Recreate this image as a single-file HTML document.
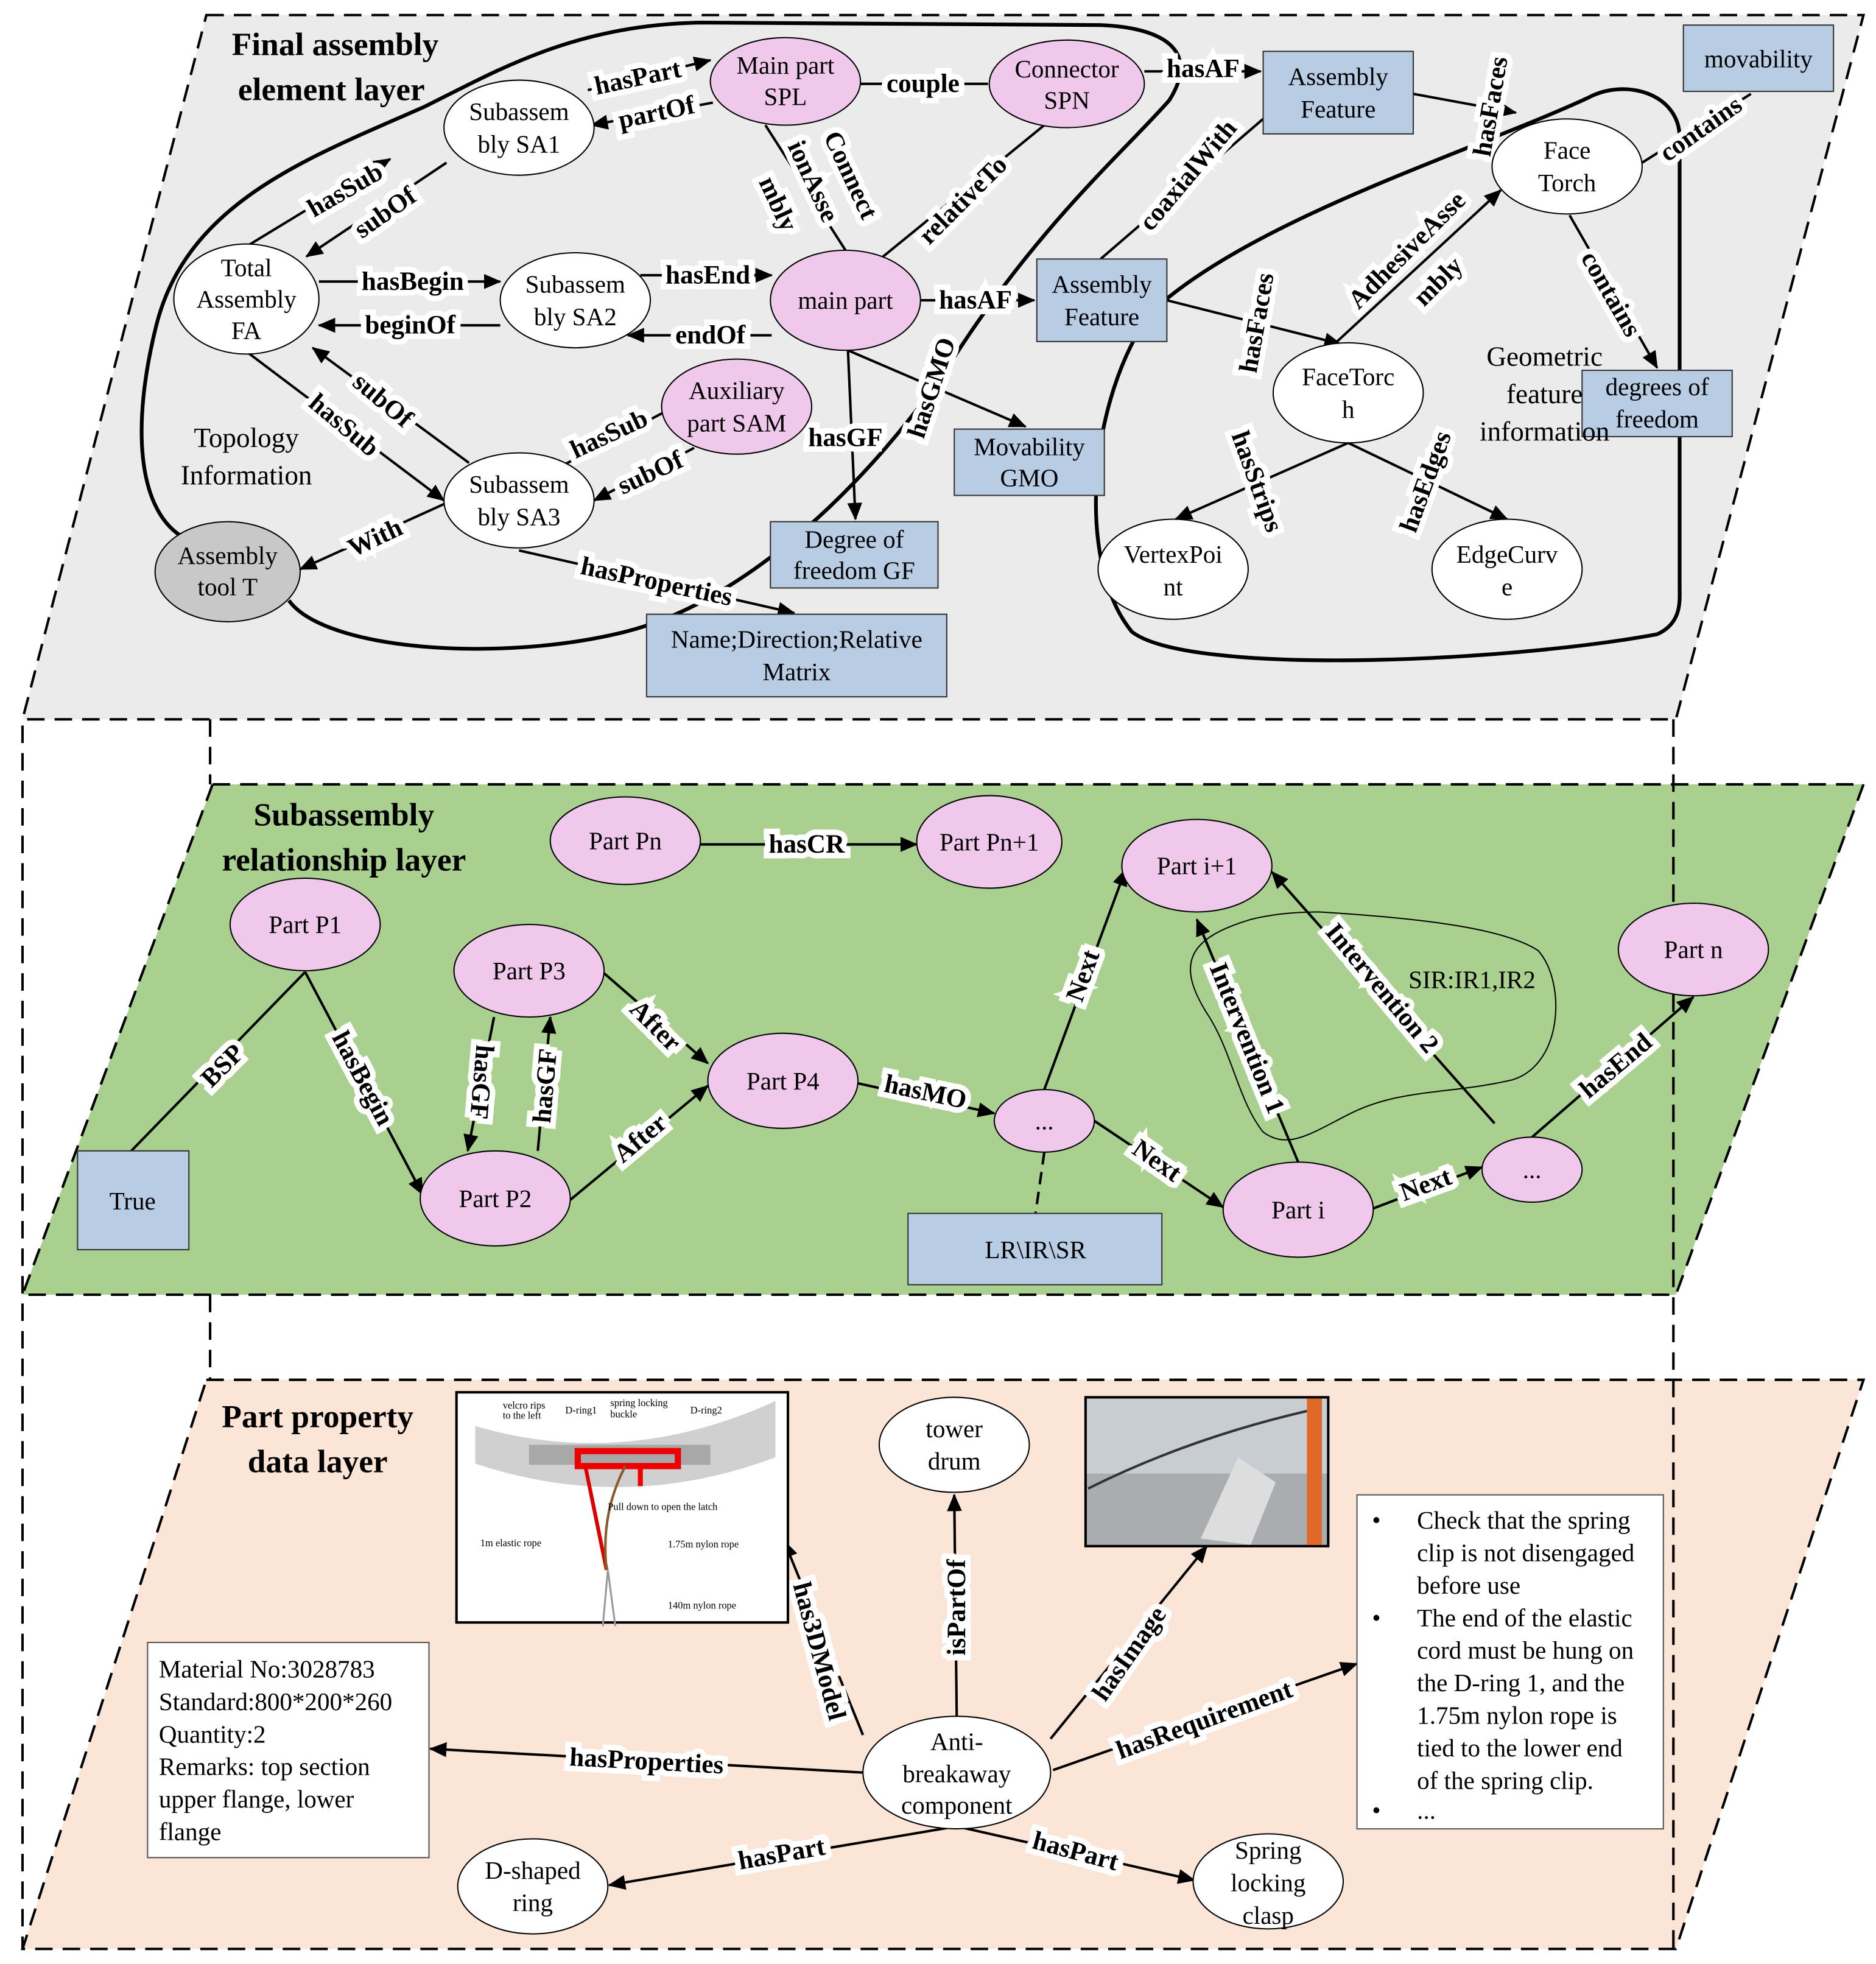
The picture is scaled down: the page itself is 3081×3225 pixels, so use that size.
<!DOCTYPE html>
<html><head><meta charset="utf-8"><style>
html,body{margin:0;padding:0;background:#fff}
svg{display:block;font-family:"Liberation Serif",serif}
text{font-family:"Liberation Serif",serif}
.n{font-family:"Liberation Serif",serif;font-size:20px;text-anchor:middle;dominant-baseline:central}
.l{font-family:"Liberation Serif",serif;font-size:21px;font-weight:bold;text-anchor:middle;dominant-baseline:central;paint-order:stroke;stroke:#fff;stroke-width:9px;stroke-linejoin:miter}
.t{font-family:"Liberation Serif",serif;font-size:26px;font-weight:bold;text-anchor:middle}
.e{stroke:#000;stroke-width:2;fill:none}
.a{stroke:#000;stroke-width:2;fill:none;marker-end:url(#ar)}
.el{stroke:#000;stroke-width:1}
.bx{fill:#b8cce4;stroke:#333;stroke-width:1}
</style></head><body>
<svg width="3081" height="3225" viewBox="0 0 1500 1570" xmlns="http://www.w3.org/2000/svg" font-family="Liberation Serif, serif">
<defs><marker id="ar" markerUnits="userSpaceOnUse" markerWidth="14" markerHeight="12" refX="13" refY="6" orient="auto"><path d="M0,0 L14,6 L0,12 z" fill="#000"/></marker></defs>

<!-- layers -->
<polygon points="165,12 1490,12 1340,575 18,575" fill="#ebebeb" stroke="#000" stroke-width="2" stroke-dasharray="14,8"/>
<polygon points="170,627 1490,627 1340,1035 18,1035" fill="#a9d08e" stroke="#000" stroke-width="2" stroke-dasharray="14,8"/>
<polygon points="165,1103 1490,1103 1340,1558 18,1558" fill="#fbe5d6" stroke="#000" stroke-width="2" stroke-dasharray="14,8"/>
<g stroke="#000" stroke-width="2" stroke-dasharray="14,8">
<line x1="18" y1="580" x2="18" y2="1558"/>
<line x1="168" y1="575" x2="168" y2="627"/>
<line x1="168" y1="1035" x2="168" y2="1103"/>
<line x1="1338" y1="575" x2="1338" y2="1558"/>
</g>

<!-- layer 1 -->
<text class="t" x="268" y="44">Final assembly</text>
<text class="t" x="265" y="80">element layer</text>
<path d="M231,480 C260,520 400,530 500,505 C600,480 700,380 760,290 C830,180 900,120 935,80 C960,40 930,22 880,20 L560,18 C460,20 400,55 340,85 C250,125 150,160 125,260 C105,340 110,405 144,428" stroke="#000" stroke-width="3" fill="none"/>
<path d="M1343,470 L1343,110 C1343,75 1300,62 1270,78 C1180,120 1000,175 920,250 C870,320 860,450 905,505 C950,540 1200,530 1325,507 C1345,498 1343,480 1343,470" stroke="#000" stroke-width="3" fill="none"/>

<line class="a" x1="470" y1="72" x2="568" y2="48"/><text class="l" x="510" y="62" transform="rotate(-12 510 62)">hasPart</text>
<line class="a" x1="570" y1="82" x2="473" y2="100"/><text class="l" x="525" y="90" transform="rotate(-12 525 90)">partOf</text>
<line class="e" x1="688" y1="67" x2="790" y2="67"/><text class="l" x="738" y="67">couple</text>
<line class="a" x1="915" y1="57" x2="1008" y2="57"/><text class="l" x="962" y="55">hasAF</text>
<line class="a" x1="1130" y1="75" x2="1212" y2="90"/><text class="l" x="1192" y="85" transform="rotate(-80 1192 85)">hasFaces</text>
<line class="e" x1="1313" y1="130" x2="1400" y2="75"/><text class="l" x="1360" y="103" transform="rotate(-35 1360 103)">contains</text>
<line class="a" x1="1255" y1="172" x2="1325" y2="294"/><text class="l" x="1288" y="235" transform="rotate(60 1288 235)">contains</text>
<line class="a" x1="197" y1="197" x2="312" y2="127"/><text class="l" x="276" y="152" transform="rotate(-30 276 152)">hasSub</text>
<line class="a" x1="357" y1="130" x2="245" y2="205"/><text class="l" x="308" y="170" transform="rotate(-35 308 170)">subOf</text>
<line class="a" x1="255" y1="225" x2="400" y2="225"/><text class="l" x="330" y="225">hasBegin</text>
<line class="a" x1="400" y1="260" x2="255" y2="260"/><text class="l" x="328" y="260">beginOf</text>
<line class="a" x1="512" y1="220" x2="617" y2="220"/><text class="l" x="566" y="220">hasEnd</text>
<line class="a" x1="617" y1="268" x2="502" y2="268"/><text class="l" x="568" y="268">endOf</text>
<line class="e" x1="612" y1="100" x2="676" y2="200"/>
<text class="l" x="680" y="140" transform="rotate(65 680 140)">Connect</text>
<text class="l" x="650" y="145" transform="rotate(65 650 145)">ionAsse</text>
<text class="l" x="622" y="163" transform="rotate(65 622 163)">mbly</text>
<line class="e" x1="700" y1="210" x2="835" y2="100"/><text class="l" x="770" y="160" transform="rotate(-45 770 160)">relativeTo</text>
<line class="a" x1="736" y1="240" x2="827" y2="240"/><text class="l" x="780" y="240">hasAF</text>
<line class="a" x1="933" y1="240" x2="1072" y2="275"/>
<line class="e" x1="880" y1="207" x2="1010" y2="95"/><text class="l" x="950" y="140" transform="rotate(-50 950 140)">coaxialWith</text>
<line class="a" x1="678" y1="280" x2="684" y2="415"/><text class="l" x="676" y="350">hasGF</text>
<line class="a" x1="678" y1="280" x2="820" y2="341"/>
<text class="l" x="745" y="310" transform="rotate(-72 745 310)">hasGMO</text>
<line class="a" x1="197" y1="281" x2="355" y2="400"/><text class="l" x="275" y="340" transform="rotate(40 275 340)">hasSub</text>
<line class="a" x1="375" y1="370" x2="250" y2="278"/><text class="l" x="306" y="320" transform="rotate(40 306 320)">subOf</text>
<line class="e" x1="450" y1="372" x2="530" y2="330"/><text class="l" x="487" y="347" transform="rotate(-25 487 347)">hasSub</text>
<line class="a" x1="555" y1="358" x2="475" y2="400"/><text class="l" x="520" y="378" transform="rotate(-25 520 378)">subOf</text>
<line class="a" x1="357" y1="402" x2="240" y2="455"/><text class="l" x="300" y="430" transform="rotate(-25 300 430)">With</text>
<line class="a" x1="415" y1="440" x2="635" y2="490"/><text class="l" x="525" y="465" transform="rotate(12 525 465)">hasProperties</text>
<line class="a" x1="1068" y1="274" x2="1200" y2="152"/>
<text class="l" x="1125" y="200" transform="rotate(-45 1125 200)">AdhesiveAsse</text>
<text class="l" x="1150" y="225" transform="rotate(-45 1150 225)">mbly</text>
<text class="l" x="1005" y="258" transform="rotate(-80 1005 258)">hasFaces</text>
<line class="a" x1="1078" y1="354" x2="940" y2="415"/><text class="l" x="1005" y="385" transform="rotate(70 1005 385)">hasStrips</text>
<line class="a" x1="1078" y1="354" x2="1205" y2="415"/><text class="l" x="1140" y="385" transform="rotate(-70 1140 385)">hasEdges</text>

<ellipse class="el" cx="628" cy="65" rx="60" ry="35" fill="#f0c8ec"/><text class="n" x="628" y="52">Main part</text><text class="n" x="628" y="77">SPL</text>
<ellipse class="el" cx="853" cy="67" rx="62" ry="35" fill="#f0c8ec"/><text class="n" x="853" y="55">Connector</text><text class="n" x="853" y="80">SPN</text>
<rect class="bx" x="1010" y="41" width="120" height="66"/><text class="n" x="1070" y="61">Assembly</text><text class="n" x="1070" y="87">Feature</text>
<rect class="bx" x="1346" y="20" width="120" height="53"/><text class="n" x="1406" y="47">movability</text>
<ellipse class="el" cx="415" cy="102" rx="60" ry="38" fill="#fff"/><text class="n" x="415" y="89">Subassem</text><text class="n" x="415" y="115">bly SA1</text>
<ellipse class="el" cx="1253" cy="133" rx="60" ry="38" fill="#fff"/><text class="n" x="1253" y="120">Face</text><text class="n" x="1253" y="146">Torch</text>
<ellipse class="el" cx="197" cy="239" rx="58" ry="44" fill="#fff"/><text class="n" x="197" y="214">Total</text><text class="n" x="197" y="239">Assembly</text><text class="n" x="197" y="264">FA</text>
<ellipse class="el" cx="460" cy="240" rx="60" ry="38" fill="#fff"/><text class="n" x="460" y="227">Subassem</text><text class="n" x="460" y="253">bly SA2</text>
<ellipse class="el" cx="676" cy="240" rx="60" ry="40" fill="#f0c8ec"/><text class="n" x="676" y="240">main part</text>
<rect class="bx" x="829" y="207" width="104" height="66"/><text class="n" x="881" y="227">Assembly</text><text class="n" x="881" y="253">Feature</text>
<ellipse class="el" cx="1078" cy="314" rx="60" ry="40" fill="#fff"/><text class="n" x="1078" y="301">FaceTorc</text><text class="n" x="1078" y="327">h</text>
<rect class="bx" x="1265" y="296" width="120" height="53"/><text class="n" x="1325" y="309">degrees of</text><text class="n" x="1325" y="335">freedom</text>
<text class="n" x="1235" y="285" style="font-size:22px">Geometric</text><text class="n" x="1235" y="315" style="font-size:22px">feature</text><text class="n" x="1235" y="345" style="font-size:22px">information</text>
<ellipse class="el" cx="589" cy="325" rx="60" ry="38" fill="#f0c8ec"/><text class="n" x="589" y="312">Auxiliary</text><text class="n" x="589" y="338">part SAM</text>
<rect class="bx" x="763" y="343" width="120" height="53"/><text class="n" x="823" y="357">Movability</text><text class="n" x="823" y="382">GMO</text>
<text class="n" x="197" y="350" style="font-size:22px">Topology</text><text class="n" x="197" y="380" style="font-size:22px">Information</text>
<ellipse class="el" cx="415" cy="400" rx="60" ry="38" fill="#fff"/><text class="n" x="415" y="387">Subassem</text><text class="n" x="415" y="413">bly SA3</text>
<rect class="bx" x="616" y="417" width="134" height="53"/><text class="n" x="683" y="431">Degree of</text><text class="n" x="683" y="456">freedom GF</text>
<ellipse class="el" cx="182" cy="457" rx="58" ry="40" fill="#c8c8c8"/><text class="n" x="182" y="444">Assembly</text><text class="n" x="182" y="469">tool T</text>
<ellipse class="el" cx="938" cy="455" rx="60" ry="40" fill="#fff"/><text class="n" x="938" y="443">VertexPoi</text><text class="n" x="938" y="469">nt</text>
<ellipse class="el" cx="1205" cy="455" rx="60" ry="40" fill="#fff"/><text class="n" x="1205" y="443">EdgeCurv</text><text class="n" x="1205" y="469">e</text>
<rect class="bx" x="517" y="491" width="240" height="66"/><text class="n" x="637" y="511">Name;Direction;Relative</text><text class="n" x="637" y="537">Matrix</text>

<!-- layer 2 -->
<text class="t" x="275" y="660">Subassembly</text>
<text class="t" x="275" y="696">relationship layer</text>
<path d="M1055,729 C1120,733 1200,740 1230,760 C1252,785 1250,850 1210,863 C1160,875 1120,870 1080,890 C1050,905 1030,920 1010,905 C990,880 985,840 965,810 C940,770 950,750 1000,735 C1020,730 1040,729 1055,729 Z" stroke="#000" stroke-width="1" fill="none"/>
<line class="a" x1="560" y1="675" x2="733" y2="675"/><text class="l" x="645" y="675">hasCR</text>
<line class="e" x1="105" y1="920" x2="244" y2="777"/><text class="l" x="178" y="852" transform="rotate(-45 178 852)">BSP</text>
<line class="a" x1="244" y1="777" x2="338" y2="955"/><text class="l" x="290" y="862" transform="rotate(62 290 862)">hasBegin</text>
<line class="a" x1="395" y1="813" x2="374" y2="920"/><text class="l" x="385" y="865" transform="rotate(95 385 865)">hasGF</text>
<line class="a" x1="430" y1="920" x2="440" y2="813"/><text class="l" x="436" y="868" transform="rotate(-85 436 868)">hasGF</text>
<line class="a" x1="483" y1="778" x2="566" y2="850"/><text class="l" x="524" y="820" transform="rotate(45 524 820)">After</text>
<line class="a" x1="455" y1="960" x2="566" y2="868"/><text class="l" x="512" y="910" transform="rotate(-40 512 910)">After</text>
<line class="a" x1="686" y1="866" x2="795" y2="890"/><text class="l" x="740" y="873" transform="rotate(12 740 873)">hasMO</text>
<line class="a" x1="835" y1="871" x2="900" y2="695"/><text class="l" x="866" y="780" transform="rotate(-70 866 780)">Next</text>
<line class="a" x1="875" y1="896" x2="978" y2="965"/><text class="l" x="925" y="928" transform="rotate(35 925 928)">Next</text>
<line x1="835" y1="921" x2="828" y2="970" stroke="#000" stroke-width="2" stroke-dasharray="10,6"/>
<line class="a" x1="1038" y1="929" x2="957" y2="735"/><text class="l" x="997" y="830" transform="rotate(68 997 830)">Intervention 1</text>
<line class="a" x1="1195" y1="898" x2="1017" y2="697"/><text class="l" x="1105" y="790" transform="rotate(50 1105 790)">Intervention 2</text>
<line class="a" x1="1098" y1="966" x2="1185" y2="933"/><text class="l" x="1140" y="947" transform="rotate(-20 1140 947)">Next</text>
<line class="a" x1="1225" y1="909" x2="1354" y2="797"/><text class="l" x="1292" y="852" transform="rotate(-40 1292 852)">hasEnd</text>
<text class="n" x="1177" y="783">SIR:IR1,IR2</text>

<ellipse class="el" cx="500" cy="672" rx="60" ry="35" fill="#f0c8ec"/><text class="n" x="500" y="672">Part Pn</text>
<ellipse class="el" cx="791" cy="673" rx="58" ry="37" fill="#f0c8ec"/><text class="n" x="791" y="673">Part Pn+1</text>
<ellipse class="el" cx="957" cy="692" rx="60" ry="37" fill="#f0c8ec"/><text class="n" x="957" y="692">Part i+1</text>
<ellipse class="el" cx="244" cy="739" rx="60" ry="37" fill="#f0c8ec"/><text class="n" x="244" y="739">Part P1</text>
<ellipse class="el" cx="423" cy="776" rx="60" ry="37" fill="#f0c8ec"/><text class="n" x="423" y="776">Part P3</text>
<ellipse class="el" cx="1354" cy="759" rx="60" ry="37" fill="#f0c8ec"/><text class="n" x="1354" y="759">Part n</text>
<ellipse class="el" cx="626" cy="864" rx="60" ry="38" fill="#f0c8ec"/><text class="n" x="626" y="864">Part P4</text>
<ellipse class="el" cx="835" cy="896" rx="40" ry="25" fill="#f0c8ec"/><text class="n" x="835" y="896">...</text>
<ellipse class="el" cx="396" cy="958" rx="60" ry="38" fill="#f0c8ec"/><text class="n" x="396" y="958">Part P2</text>
<ellipse class="el" cx="1038" cy="967" rx="60" ry="38" fill="#f0c8ec"/><text class="n" x="1038" y="967">Part i</text>
<ellipse class="el" cx="1225" cy="935" rx="40" ry="26" fill="#f0c8ec"/><text class="n" x="1225" y="935">...</text>
<rect class="bx" x="62" y="920" width="89" height="79"/><text class="n" x="106" y="960">True</text>
<rect class="bx" x="726" y="970" width="203" height="57"/><text class="n" x="828" y="999">LR\IR\SR</text>

<!-- layer 3 -->
<text class="t" x="254" y="1141">Part property</text>
<text class="t" x="254" y="1177">data layer</text>
<line class="a" x1="690" y1="1387" x2="627" y2="1232"/><text class="l" x="655" y="1320" transform="rotate(75 655 1320)">has3DModel</text>
<line class="a" x1="765" y1="1375" x2="763" y2="1195"/><text class="l" x="765" y="1285" transform="rotate(-90 765 1285)">isPartOf</text>
<line class="a" x1="840" y1="1390" x2="965" y2="1236"/><text class="l" x="903" y="1322" transform="rotate(-55 903 1322)">hasImage</text>
<line class="a" x1="842" y1="1415" x2="1085" y2="1330"/><text class="l" x="963" y="1375" transform="rotate(-20 963 1375)">hasRequirement</text>
<line class="a" x1="690" y1="1417" x2="344" y2="1398"/><text class="l" x="517" y="1408" transform="rotate(3 517 1408)">hasProperties</text>
<line class="a" x1="765" y1="1460" x2="487" y2="1507"/><text class="l" x="625" y="1482" transform="rotate(-10 625 1482)">hasPart</text>
<line class="a" x1="765" y1="1460" x2="955" y2="1503"/><text class="l" x="860" y="1480" transform="rotate(15 860 1480)">hasPart</text>

<rect x="365" y="1113" width="265" height="184" fill="#fff" stroke="#000" stroke-width="2"/>
<path d="M380,1140 Q500,1175 620,1120 L620,1165 Q500,1210 380,1170 z" fill="#d0d0d0"/>
<rect x="423" y="1155" width="145" height="16" fill="#a8a8a8"/>
<path d="M462,1160 h80 v12 h-80 z" fill="none" stroke="#e00" stroke-width="5"/>
<line x1="468" y1="1172" x2="485" y2="1255" stroke="#d00" stroke-width="3"/>
<path d="M500,1172 Q480,1210 485,1255" stroke="#8b5a2b" stroke-width="2" fill="none"/>
<path d="M512,1170 v18" stroke="#e00" stroke-width="4"/>
<path d="M486,1255 l-4,45 M486,1255 l6,45" stroke="#999" stroke-width="1.5" fill="none"/>
<g style="font-size:8px"><text x="402" y="1126">velcro rips</text><text x="402" y="1134">to the left</text><text x="452" y="1130">D-ring1</text><text x="488" y="1124">spring locking</text><text x="488" y="1133">buckle</text><text x="552" y="1130">D-ring2</text><text x="486" y="1207">Pull down to open the latch</text><text x="384" y="1236">1m elastic rope</text><text x="534" y="1237">1.75m nylon rope</text><text x="534" y="1286">140m nylon rope</text></g>

<ellipse class="el" cx="763" cy="1155" rx="60" ry="38" fill="#fff"/><text class="n" x="763" y="1142">tower</text><text class="n" x="763" y="1168">drum</text>
<rect x="868" y="1117" width="194" height="119" fill="#a9adb0" stroke="#000" stroke-width="2"/>
<rect x="869" y="1118" width="192" height="60" fill="#c8cdd1"/>
<path d="M870,1190 Q950,1150 1045,1128" stroke="#333" stroke-width="2" fill="none"/>
<rect x="1045" y="1118" width="12" height="117" fill="#e0692a"/>
<polygon points="960,1230 990,1165 1020,1185 1000,1235" fill="#ddd"/>

<rect x="1085" y="1195" width="245" height="267" fill="#fff" stroke="#555" stroke-width="1"/>
<g style="font-size:20px">
<text x="1097" y="1222">•</text><text x="1133" y="1222">Check that the spring</text><text x="1133" y="1248">clip is not disengaged</text><text x="1133" y="1274">before use</text>
<text x="1097" y="1300">•</text><text x="1133" y="1300">The end of the elastic</text><text x="1133" y="1326">cord must be hung on</text><text x="1133" y="1352">the D-ring 1, and the</text><text x="1133" y="1378">1.75m  nylon rope  is</text><text x="1133" y="1404">tied to the lower end</text><text x="1133" y="1430">of the spring clip.</text>
<text x="1097" y="1454">•</text><text x="1133" y="1454">...</text>
</g>
<rect x="118" y="1313" width="225" height="172" fill="#fff" stroke="#555" stroke-width="1"/>
<g style="font-size:20px">
<text x="127" y="1341">Material No:3028783</text><text x="127" y="1367">Standard:800*200*260</text><text x="127" y="1393">Quantity:2</text><text x="127" y="1419">Remarks: top section</text><text x="127" y="1445">upper flange, lower</text><text x="127" y="1471">flange</text>
</g>
<ellipse class="el" cx="765" cy="1417" rx="75" ry="45" fill="#fff"/><text class="n" x="765" y="1392">Anti-</text><text class="n" x="765" y="1418">breakaway</text><text class="n" x="765" y="1443">component</text>
<ellipse class="el" cx="426" cy="1508" rx="60" ry="38" fill="#fff"/><text class="n" x="426" y="1495">D-shaped</text><text class="n" x="426" y="1521">ring</text>
<ellipse class="el" cx="1014" cy="1504" rx="60" ry="38" fill="#fff"/><text class="n" x="1014" y="1479">Spring</text><text class="n" x="1014" y="1505">locking</text><text class="n" x="1014" y="1531">clasp</text>
</svg>
</body></html>
